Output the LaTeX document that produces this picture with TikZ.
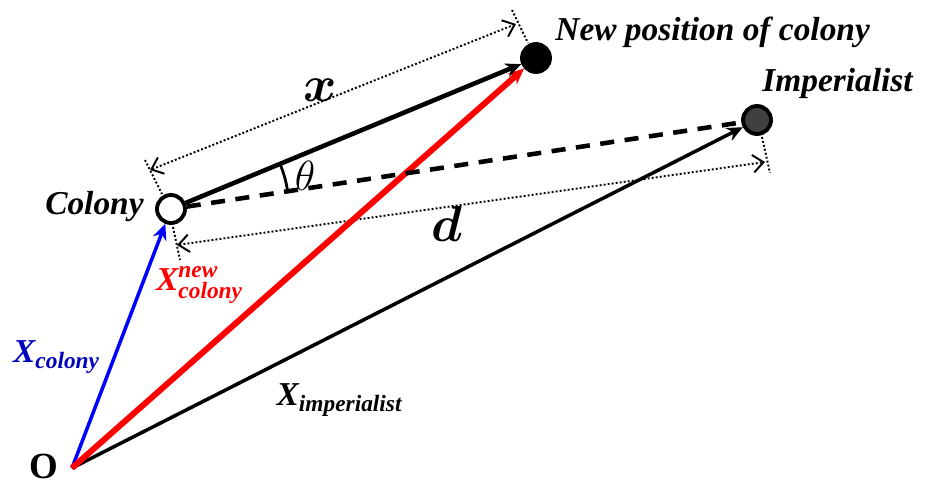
\documentclass[tikz,border=0pt]{standalone}
\usepackage{amsmath}
\usepackage{fontspec}
\setmainfont{Liberation Serif}
\usetikzlibrary{arrows.meta}
\tikzset{
  icacountry/.style={circle, draw, line width=1.1pt, fill=white,
                     minimum size=0.28cm, inner sep=0pt},
  icanew/.style={icacountry, fill=black},
  icaimperialist/.style={icacountry, fill=black!75},
  icavector/.style={draw, -{Stealth[length=4.5pt, width=4pt]}},
  icaext/.style={draw, line width=0.55pt, dash pattern=on 0.55pt off 0.6pt},
  icadim/.style={icaext, {Straight Barb[length=3pt, width=5pt]}-{Straight Barb[length=3pt, width=5pt]}},
  icalabel/.style={font=\fontsize{9.5}{11}\selectfont\bfseries\itshape}
}

\begin{document}
\begin{tikzpicture}[
    % the move of one colony towards its imperialist
    step line/.style={icavector, line width=1.3pt},
    toward/.style={draw, dashed, dash pattern=on 4pt off 3pt, line width=1.3pt}
]
  \useasboundingbox (0,0) rectangle (9.35,4.84);
  \coordinate (origin) at (0.72,0.16);
  \node[icacountry]     (colony)      at (1.71,2.75) {};
  \node[icanew]         (newpos)      at (5.36,4.26) {};
  \node[icaimperialist] (imperialist) at (7.57,3.64) {};
  % dimension x, parallel to the step
  \coordinate (xa) at (1.45,3.24);
  \coordinate (xb) at (1.62,2.90);
  \coordinate (xc) at (5.12,4.74);
  \coordinate (xd) at (5.28,4.41);
  \coordinate (xl) at (1.50,3.14);
  \coordinate (xr) at (5.16,4.60);
  \draw[icaext] (xa) -- (xb);
  \draw[icaext] (xc) -- (xd);
  \draw[icadim] (xl) -- (xr);
  % dimension d, parallel to the dashed line
  \coordinate (da) at (1.73,2.57);
  \coordinate (db) at (1.80,2.24);
  \coordinate (dc) at (7.62,3.47);
  \coordinate (dd) at (7.70,3.11);
  \coordinate (dl) at (1.77,2.39);
  \coordinate (dr) at (7.65,3.22);
  \draw[icaext] (da) -- (db);
  \draw[icaext] (dc) -- (dd);
  \draw[icadim] (dl) -- (dr);
  % vectors from the origin
  \draw[icavector, line width=1pt] (origin) -- (imperialist);
  \draw[icavector, blue, line width=1pt] (origin) -- (colony);
  \draw[icavector, red, line width=1.7pt] (origin) -- (newpos);
  \draw[toward] (colony) -- (imperialist);
  \draw[step line] (colony) -- (newpos);
  \draw[line width=0.8pt] (colony) ++(8.6:1.18) arc[start angle=8.6, end angle=22.5, radius=1.18];
  % labels
  \node[icalabel, anchor=east] (colonylabel) at (1.56,2.77) {Colony};
  \node[icalabel, anchor=west] (newlabel)    at (5.43,4.52) {New position of colony};
  \node[icalabel, anchor=west] (implabel)    at (7.50,4.01) {Imperialist};
  \node[font=\fontsize{10.5}{12}\selectfont\bfseries] (olabel) at (0.44,0.18) {O};
  \node[font=\Large] (xlabel) at (3.20,3.94) {$\boldsymbol{x}$};
  \node[font=\large] (thetalabel) at (3.05,3.08) {$\theta$};
  \node[font=\Large] (dlabel) at (4.47,2.60) {$\boldsymbol{d}$};
  \node[icalabel, blue!75!black] (xcolony) at (0.57,1.27) {X$_{\text{colony}}$};
  \node[icalabel, red] (xnew) at (2.00,1.99) {X$^{\text{new}}_{\text{colony}}$};
  \node[icalabel] (ximp) at (3.40,0.84) {X$_{\text{imperialist}}$};
\end{tikzpicture}
\end{document}
